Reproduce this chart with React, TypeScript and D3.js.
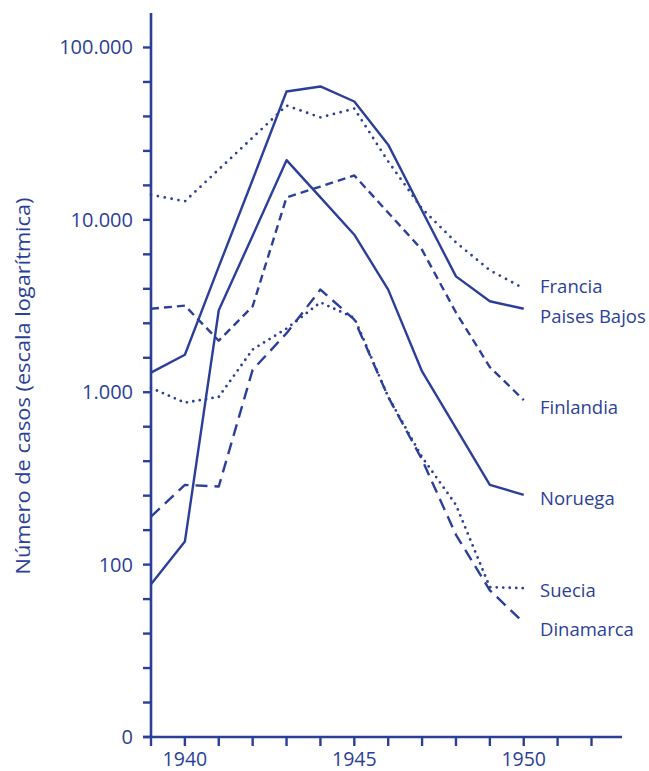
import React from "react";
import * as d3 from "d3";

const years = [1939, 1940, 1941, 1942, 1943, 1944, 1945, 1946, 1947, 1948, 1949, 1950];

const francia = [14000, 12800, 19600, 30000, 46000, 39300, 44200, 21800, 11600, 7400, 5100, 4000];
const paisesBajos = [1300, 1650, 5350, 17100, 55500, 59400, 48600, 27300, 11300, 4700, 3370, 3050];
const finlandia = [3050, 3180, 1990, 3150, 13500, 15600, 18100, 11000, 6700, 2900, 1400, 900];
const noruega = [77, 136, 2990, 8100, 22200, 13500, 8200, 3940, 1320, 620, 290, 254];
const suecia = [1060, 870, 940, 1770, 2340, 3320, 2700, 940, 420, 222, 74, 73];
const dinamarca = [190, 290, 284, 1350, 2200, 3940, 2640, 940, 406, 149, 71, 46];

const seriesNames = ["Francia", "Paises Bajos", "Finlandia", "Noruega", "Suecia", "Dinamarca"];
const seriesValues = [francia, paisesBajos, finlandia, noruega, suecia, dinamarca];
const seriesDash = ["0 7", null, "8 5", null, "0 6.5", "12 7"];
// label baselines in px (labels were placed by hand in the original)
const labelY = [292.5, 322.5, 413.5, 505, 597, 635.5];

const yMajor = [10, 100, 1000, 10000, 100000];
const yMajorLabels = ["0", "100", "1.000", "10.000", "100.000"];
const xLabelYears = [1940, 1945, 1950];

const blue = "#2b3f98";
const font = "'Open Sans', sans-serif";

export default function App() {
  const width = 649;
  const height = 771;

  const x = d3.scaleLinear().domain([1939, 1952.9]).range([151, 622]);
  const y = d3.scaleLog().domain([10, Math.pow(10, 5.2)]).range([737, 13]);

  const line = d3
    .line<number>()
    .x((_, i) => x(years[i]))
    .y((d) => y(d));

  // five evenly spaced ticks per decade
  const yTicks: number[] = [];
  for (let k = 1; k < 5; k++) {
    for (let j = 0; j < 5; j++) yTicks.push(Math.pow(10, k + j / 5));
  }
  yTicks.push(100000);

  const xTicks = d3.range(1939, 1953);

  return (
    <svg
      width={width}
      height={height}
      style={{ position: "absolute", left: 0, top: 0, background: "#fff" }}
    >
      {/* axes */}
      <line x1={x(1939)} x2={x(1939)} y1={13} y2={y(10) + 1} stroke={blue} strokeWidth={2.6} />
      <line x1={x(1939) - 8} x2={622} y1={y(10)} y2={y(10)} stroke={blue} strokeWidth={2.6} />
      {yTicks.map((t, i) => (
        <line key={"yt" + i} x1={x(1939) - 8} x2={x(1939)} y1={y(t)} y2={y(t)} stroke={blue} strokeWidth={2.4} />
      ))}
      {xTicks.map((t) => (
        <line key={"xt" + t} x1={x(t)} x2={x(t)} y1={y(10)} y2={y(10) + 9} stroke={blue} strokeWidth={2.4} />
      ))}
      {yMajor.map((t, i) => (
        <text
          key={"yl" + i}
          x={133}
          y={y(t) + 7}
          textAnchor="end"
          fill={blue}
          fontFamily={font}
          fontSize={20}
        >
          {yMajorLabels[i]}
        </text>
      ))}
      {xLabelYears.map((t) => (
        <text
          key={"xl" + t}
          x={x(t)}
          y={766}
          textAnchor="middle"
          fill={blue}
          fontFamily={font}
          fontSize={19.5}
        >
          {t}
        </text>
      ))}
      <text
        transform="translate(30,386) rotate(-90)"
        textAnchor="middle"
        fill={blue}
        fontFamily={font}
        fontSize={20}
        textLength={377}
        lengthAdjust="spacingAndGlyphs"
      >
        Número de casos (escala logarítmica)
      </text>

      {/* series */}
      {seriesValues.map((vals, i) => (
        <path
          key={"s" + i}
          d={line(vals) || ""}
          fill="none"
          stroke={blue}
          strokeWidth={seriesDash[i] && seriesDash[i]!.startsWith("0") ? 2.8 : 2.4}
          strokeDasharray={seriesDash[i] || undefined}
          strokeLinecap={seriesDash[i] && seriesDash[i]!.startsWith("0") ? "round" : "butt"}
          strokeLinejoin="round"
        />
      ))}
      {seriesNames.map((n, i) => (
        <text key={"n" + i} x={540} y={labelY[i]} fill={blue} fontFamily={font} fontSize={18.5}>
          {n}
        </text>
      ))}
    </svg>
  );
}
